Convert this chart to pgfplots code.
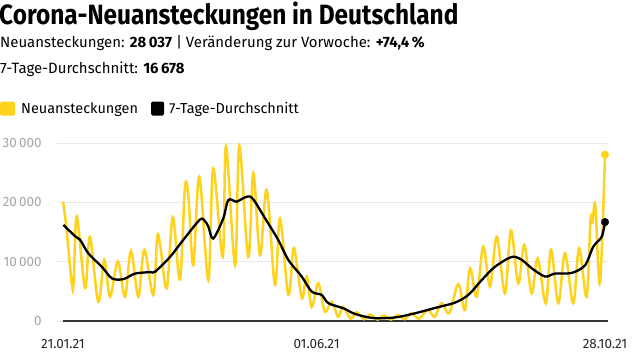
\documentclass[border=0pt]{standalone}
\usepackage{pgfplots}
\pgfplotsset{compat=1.18}
\usepackage{fontspec}
\setmainfont{Fira Sans}
\newfontfamily\titlefont{Fira Sans}[FakeStretch=0.875]
\definecolor{cyellow}{HTML}{FDD31E}
\definecolor{gridgray}{HTML}{E8E8E8}
\definecolor{ticklab}{HTML}{A5A5A5}
\pgfplotstableread{
day val
0 20100
1.5 16500
4.5 6400
5.5 6500
7.1 17600
11.4 5560
13.9 14200
18.2 3250
21.3 10280
24.3 4100
28.3 10000
32.0 4100
35.1 11800
38.9 4100
42.0 12000
46.6 4400
48.7 14200
50.3 12500
53.6 5500
56.7 17500
60.4 7000
63.0 22600
64.8 20800
67.3 9400
70.4 24300
75.1 6900
77.6 25700
82.5 10800
84.2 29400
88.9 9400
91.1 29500
95.7 10800
98.3 24900
101.8 11100
105.2 22100
109.5 6100
112.1 17300
116.4 4400
119.0 12200
120.8 9500
123.5 3800
125.9 7500
128.5 2400
131.9 6350
135.3 1570
138.8 3250
142.2 720
144.7 2400
148.5 400
151.7 1500
155.5 300
158.7 1100
162.5 250
165.7 900
169.5 250
173 1000
176.5 300
180 1300
184 400
188.5 1900
192 700
195.6 3000
199.5 1300
203.4 5800
205 5700
207.7 1850
210.3 8900
213.7 4100
217.1 12500
220.6 5800
224.1 14200
228.3 4650
231.4 15300
235.2 6350
238.3 12800
242.1 4650
245.2 10560
249.4 3000
252.1 12000
255.9 3000
259.3 11400
263.6 3000
266.6 12250
270.5 4100
272.5 17000
273.5 16500
275 19500
277.4 6350
280 28037
}\newcases
\pgfplotstableread{
day val
0.2 16200
6.2 14300
8.8 13700
13.1 11400
20 9150
25.2 7200
30.3 7000
33.6 7400
37.2 8000
45 8250
47.5 8300
55.3 10800
62.1 13650
70.8 17100
73.4 16800
75.1 15900
77.6 13900
82.8 17300
85.4 20400
89.7 20100
93.1 20700
97.5 20800
104.4 17300
111.2 13650
116.4 10300
123.3 7500
128.5 4950
133.6 4400
137.1 3000
144.8 2150
150.8 1200
160.1 500
171.5 600
181.8 1300
192.2 2200
202.5 3100
209.4 4400
216.3 6900
223.2 9150
231.8 10800
237 10300
242.1 8900
249 7500
254.2 8000
262.8 8100
269.7 9400
273.9 12500
278.3 14200
280 16678
}\avgdata
\begin{document}
\begin{tikzpicture}
\useasboundingbox (0bp,0bp) rectangle (632bp,-358bp);
\node[anchor=base west, inner sep=0, font=\titlefont\bfseries\fontsize{28}{30}\selectfont] at (-1bp,-24bp) {Corona-Neuansteckungen in Deutschland};
\node[anchor=base west, inner sep=0, font=\fontsize{15}{16}\selectfont] at (0bp,-47bp) {Neuansteckungen: \textbf{28\,037} | Veränderung zur Vorwoche: \textbf{+74,4\,\%}};
\node[anchor=base west, inner sep=0, font=\fontsize{15}{16}\selectfont] at (0bp,-73bp) {7-Tage-Durchschnitt: \textbf{16\,678}};
\fill[cyellow, rounded corners=1.5bp] (0bp,-101.5bp) rectangle (15bp,-115.5bp);
\node[anchor=base west, inner sep=0, font=\fontsize{14.5}{16}\selectfont] at (21bp,-113bp) {Neuansteckungen};
\fill[black, rounded corners=1.5bp] (151bp,-101.5bp) rectangle (164bp,-115.5bp);
\node[anchor=base west, inner sep=0, font=\fontsize{14.5}{16}\selectfont] at (169bp,-113bp) {7-Tage-Durchschnitt};
\begin{axis}[
  at={(57.2bp,-321bp)}, anchor=south west,
  scale only axis, width=550.7bp, height=178bp,
  xmin=-3, xmax=281.5, ymin=0, ymax=30000,
  clip=false,
  axis line style={draw=none},
  tick style={draw=none},
  ymajorgrids, grid style={gridgray, line width=0.9bp},
  ytick={0,10000,20000,30000},
  scaled y ticks=false,
  /pgf/number format/assume math mode=true,
  /pgf/number format/1000 sep={\,},
  yticklabel style={font=\fontsize{13.5}{16}\selectfont, text=ticklab, anchor=east, xshift=-12bp},
  xtick={0,131,280},
  xticklabels={21.01.21,01.06.21,28.10.21},
  xticklabel style={font=\fontsize{13.5}{16}\selectfont, text=black!85, anchor=north, yshift=-15bp},
]
\draw[black!80, line width=1.1bp] (axis cs:0,0) -- (axis cs:281.5,0);
\addplot[cyellow, line width=2.5bp, smooth, tension=0.55] table[x=day,y=val] {\newcases};
\addplot[black, line width=2.3bp, smooth, tension=0.5] table[x=day,y=val] {\avgdata};
\addplot[only marks, mark=*, mark size=3.8bp, cyellow] coordinates {(280,28037)};
\addplot[only marks, mark=*, mark size=3.8bp, black] coordinates {(280,16678)};
\end{axis}
\end{tikzpicture}
\end{document}
